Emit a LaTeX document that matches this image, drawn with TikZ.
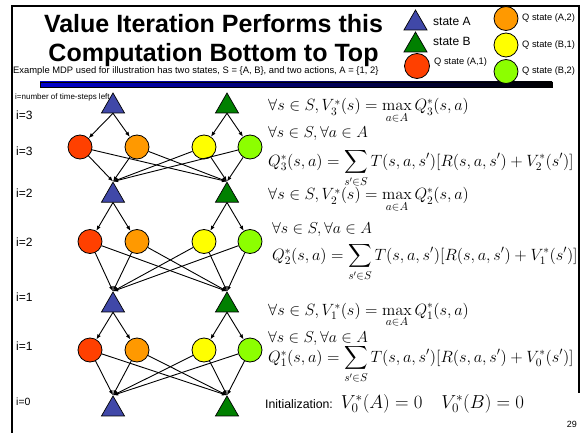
\RequirePackage{fix-cm}
\documentclass[tikz,border=0pt]{standalone}
\usepackage{amsmath,amssymb}
\usepackage[no-math]{fontspec}
\setmainfont{Liberation Sans}
\usetikzlibrary{arrows.meta,shapes.geometric}

\definecolor{stateA}{RGB}{64,72,168}
\definecolor{stateB}{RGB}{0,128,0}
\definecolor{qAone}{RGB}{255,64,0}
\definecolor{qAtwo}{RGB}{255,153,0}
\definecolor{qBone}{RGB}{255,255,0}
\definecolor{qBtwo}{RGB}{140,255,0}

\begin{document}
\begin{tikzpicture}[x=1pt,y=-1pt,>={Latex[length=5pt,width=4pt]},
 tri/.style={draw,regular polygon,regular polygon sides=3,inner sep=0pt,minimum size=26.6pt,line width=0.7pt},
 qnode/.style={draw,circle,inner sep=0pt,minimum size=24pt,line width=0.8pt},
 lvl/.style={anchor=west,inner sep=0pt,font=\fontsize{12}{14}\selectfont},
 eqn/.style={anchor=base west,inner sep=0pt,font=\fontsize{16.3}{18}\selectfont},
 forall/.style={eqn,font=\fontsize{15.8}{17}\selectfont},
 bellman/.style={eqn,font=\fontsize{16.35}{18}\selectfont},
 legend/.style={anchor=west,inner sep=0pt,font=\fontsize{9.3}{11}\selectfont},
 link/.style={->,line width=0.9pt}]
\useasboundingbox (0,0) rectangle (581,433);
% frame and title
\draw[line width=2pt] (12,433) -- (12,6) -- (579,6) -- (579,393);
\node[anchor=base,inner sep=0pt,font=\fontsize{25}{28}\bfseries] (title1) at (213.5,33) {Value Iteration Performs this};
\node[anchor=base,inner sep=0pt,font=\fontsize{25}{28}\bfseries] (title2) at (213.5,62) {Computation Bottom to Top};
\node[anchor=base west,inner sep=0pt,font=\fontsize{9.4}{11}\selectfont] (sub) at (13,74)
 {Example MDP used for illustration has two states, S = \{A, B\}, and two actions, A = \{1, 2\}};
\shade[left color=blue!80!black,right color=black,draw=black,line width=0.6pt] (40,82) rectangle (552,87.5);
% legend
\node[tri,fill=stateA] (legA) at (415.5,23.3) {};
\node[tri,fill=stateB] (legB) at (415.5,45.3) {};
\node[qnode,fill=qAone,minimum size=25pt] (legQa1) at (417,66) {};
\node[qnode,fill=qAtwo] (legQa2) at (506,18.5) {};
\node[qnode,fill=qBone] (legQb1) at (506,45) {};
\node[qnode,fill=qBtwo] (legQb2) at (506,71.5) {};
\node[legend,font=\fontsize{12}{14}\selectfont] at (433,21) {state A};
\node[legend,font=\fontsize{12}{14}\selectfont] at (433,41) {state B};
\node[legend] at (434,62) {Q state (A,1)};
\node[legend] at (522,18) {Q state (A,2)};
\node[legend] at (522,45) {Q state (B,1)};
\node[legend] at (522,71) {Q state (B,2)};
% levels
\node[anchor=base west,inner sep=0pt,font=\fontsize{8}{9}\selectfont] (steps) at (15,100) {i=number of time-steps left};
\node[lvl] at (16,115) {i=3};
\node[lvl] at (16,151) {i=3};
\node[lvl] at (16,193) {i=2};
\node[lvl] at (16,242) {i=2};
\node[lvl] at (16,297) {i=1};
\node[lvl] at (16,346) {i=1};
\node[lvl,font=\fontsize{10.5}{12}\selectfont] at (16,402) {i=0};
% states and q-states
\node[tri,fill=stateA] (a3) at (113,106.3) {};
\node[tri,fill=stateB] (b3) at (227,106.3) {};
\node[qnode,fill=qAone] (q3a1) at (80,147) {};
\node[qnode,fill=qAtwo] (q3a2) at (137,147) {};
\node[qnode,fill=qBone] (q3b1) at (204,147) {};
\node[qnode,fill=qBtwo] (q3b2) at (250,147) {};
\node[tri,fill=stateA] (a2) at (113,195.5) {};
\node[tri,fill=stateB] (b2) at (227,195.5) {};
\node[qnode,fill=qAone] (q2a1) at (90,241.5) {};
\node[qnode,fill=qAtwo] (q2a2) at (137,241.5) {};
\node[qnode,fill=qBone] (q2b1) at (204,241.5) {};
\node[qnode,fill=qBtwo] (q2b2) at (250,241.5) {};
\node[tri,fill=stateA] (a1) at (113,305.3) {};
\node[tri,fill=stateB] (b1) at (227,305.3) {};
\node[qnode,fill=qAone] (q1a1) at (90,350) {};
\node[qnode,fill=qAtwo] (q1a2) at (137,350) {};
\node[qnode,fill=qBone] (q1b1) at (204,350) {};
\node[qnode,fill=qBtwo] (q1b2) at (250,350) {};
\node[tri,fill=stateA] (a0) at (113,409.3) {};
\node[tri,fill=stateB] (b0) at (227,409.3) {};
% backups
\draw[link] (a3.south)--(q3a1);\draw[link] (a3.south)--(q3a2);\draw[link] (b3.south)--(q3b1);\draw[link] (b3.south)--(q3b2);
\draw[link] (q3a1)--(a2.corner 1);\draw[link] (q3a2)--(a2.corner 1);\draw[link] (q3b1)--(a2.corner 1);\draw[link] (q3b2)--(a2.corner 1);
\draw[link] (q3a1)--(b2.corner 1);\draw[link] (q3a2)--(b2.corner 1);\draw[link] (q3b1)--(b2.corner 1);\draw[link] (q3b2)--(b2.corner 1);
\draw[link] (a2.south)--(q2a1);\draw[link] (a2.south)--(q2a2);\draw[link] (b2.south)--(q2b1);\draw[link] (b2.south)--(q2b2);
\draw[link] (q2a1)--(a1.corner 1);\draw[link] (q2a2)--(a1.corner 1);\draw[link] (q2b1)--(a1.corner 1);\draw[link] (q2b2)--(a1.corner 1);
\draw[link] (q2a1)--(b1.corner 1);\draw[link] (q2a2)--(b1.corner 1);\draw[link] (q2b1)--(b1.corner 1);\draw[link] (q2b2)--(b1.corner 1);
\draw[link] (a1.south)--(q1a1);\draw[link] (a1.south)--(q1a2);\draw[link] (b1.south)--(q1b1);\draw[link] (b1.south)--(q1b2);
\draw[link] (q1a1)--(a0.corner 1);\draw[link] (q1a2)--(a0.corner 1);\draw[link] (q1b1)--(a0.corner 1);\draw[link] (q1b2)--(a0.corner 1);
\draw[link] (q1a1)--(b0.corner 1);\draw[link] (q1a2)--(b0.corner 1);\draw[link] (q1b1)--(b0.corner 1);\draw[link] (q1b2)--(b0.corner 1);
% equations
\node[eqn] (v3) at (268,111) {$\forall s\in S, V_3^*(s)=\displaystyle\max_{a\in A}Q_3^*(s,a)$};
\node[forall] (all3) at (268,138) {$\forall s\in S, \forall a\in A$};
\node[bellman] (bell3) at (268,166) {$Q_3^*(s,a)=\displaystyle\sum_{s'\in S}T(s,a,s')[R(s,a,s')+V_2^*(s')]$};
\node[eqn] (v2) at (268,200) {$\forall s\in S, V_2^*(s)=\displaystyle\max_{a\in A}Q_2^*(s,a)$};
\node[forall] (all2) at (272,233) {$\forall s\in S, \forall a\in A$};
\node[bellman] (bell2) at (272,260) {$Q_2^*(s,a)=\displaystyle\sum_{s'\in S}T(s,a,s')[R(s,a,s')+V_1^*(s')]$};
\node[eqn] (v1) at (268,315) {$\forall s\in S, V_1^*(s)=\displaystyle\max_{a\in A}Q_1^*(s,a)$};
\node[forall] (all1) at (268,342) {$\forall s\in S, \forall a\in A$};
\node[bellman] (bell1) at (268,362) {$Q_1^*(s,a)=\displaystyle\sum_{s'\in S}T(s,a,s')[R(s,a,s')+V_0^*(s')]$};
\node[anchor=base west,inner sep=0pt,font=\fontsize{12.3}{14}\selectfont] (init) at (265,408)
 {Initialization:\hspace{8pt}{\fontsize{18.8}{20}\selectfont$V_0^*(A)=0\quad V_0^*(B)=0$}};
\node[anchor=base east,inner sep=0pt,font=\fontsize{9}{10}\selectfont] (page) at (577,427) {29};
\end{tikzpicture}
\end{document}
